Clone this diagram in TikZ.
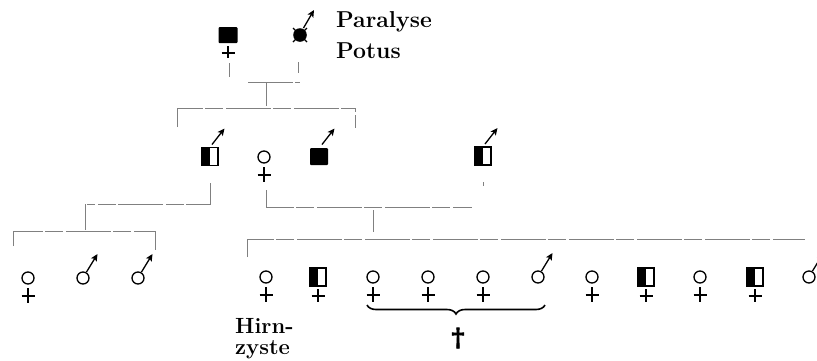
\documentclass[tikz,border=0pt]{standalone}
\usepackage{fontspec}
\newfontfamily\dagfont{DejaVu Serif}[FakeBold=2.5]
\usetikzlibrary{arrows.meta,decorations.pathreplacing}
\newcommand{\lblfont}{\fontsize{23pt}{24pt}\selectfont\bfseries}
\newcommand{\notefont}{\fontsize{22pt}{23pt}\selectfont\bfseries}
\newcommand{\crossfont}{\fontsize{25pt}{26pt}\selectfont\dagfont\bfseries}
\begin{document}
\begin{tikzpicture}[x=1pt,y=-1pt,
  sym/.style={line width=1.3pt},
  kin/.style={draw=black!50, line width=0.75pt, dash pattern=on 45pt off 2pt on 18pt off 3pt},
  marrow/.style={line width=1.3pt, -{Stealth[length=7pt,width=6.5pt,inset=1.5pt]}},
  lbl/.style={inner sep=0pt},
  ring/.style={circle, draw, line width=1.3pt, minimum size=12pt, inner sep=0pt},
  % female, unaffected
  femc/.pic={\node[ring] (-s) at (0,0) {};
    \draw[sym] (0,10)--(0,25) (-6.5,18)--(6.5,18);},
  % male, unaffected
  malc/.pic={\node[ring] (-s) at (0,0) {};
    \draw[marrow] (3.5,-6)--(14.5,-24);},
  % male, half affected
  halfm/.pic={\coordinate (-s) at (0,0);
    \fill (-8,-9) rectangle (0,9);
    \draw[sym] (-8,-9) rectangle (8,9);
    \draw[marrow] (2,-12)--(14.5,-28);},
  % female, half affected
  halff/.pic={\coordinate (-s) at (0,0);
    \fill (-8,-9) rectangle (0,9);
    \draw[sym] (-8,-9) rectangle (8,9);
    \draw[sym] (0,12)--(0,25) (-6.5,19)--(6.5,19);},
  % male, affected
  blkm/.pic={\coordinate (-s) at (0,0);
    \fill[rounded corners=1pt] (-9,-8.5) rectangle (9,8.5);
    \draw[marrow] (3,-12)--(15.5,-28);},
  % female, affected
  blkf/.pic={\coordinate (-s) at (0,0);
    \fill[rounded corners=1pt] (-9.5,-8) rectangle (9.5,8);
    \draw[sym] (0,11)--(0,23) (-6.5,18)--(6.5,18);},
  % male, affected, crossed circle
  xcirc/.pic={\coordinate (-s) at (0,0);
    \fill (0,0) circle (6.8);
    \draw[line width=1.3pt] (-7,-7)--(7,7) (-7,7)--(7,-7);
    \draw[marrow] (3.5,-7)--(14,-25);}
]
\useasboundingbox (0,0) rectangle (817,360);

% first generation
\pic (g1a) at (228,35) {blkf};
\pic (g1b) at (300,35) {xcirc};
\node[lbl, anchor=base west] (t1) at (336,27) {\lblfont Paralyse};
\node[lbl, anchor=base west] (t2) at (336,58) {\lblfont Potus};

% second generation
\pic (g2a) at (210,156.5) {halfm};
\pic (g2b) at (264,157) {femc};
\pic (g2c) at (319,156.5) {blkm};
\pic (g2d) at (483,156) {halfm};

% third generation, left sibship
\pic (l1) at (28,278) {femc};
\pic (l2) at (83,278) {malc};
\pic (l3) at (138,278) {malc};

% third generation, right sibship
\pic (r1) at (266,277) {femc};
\pic (r2) at (318,277) {halff};
\pic (r3) at (373,277) {femc};
\pic (r4) at (428,277) {femc};
\pic (r5) at (483,277) {femc};
\pic (r6) at (538,277) {malc};
\pic (r7) at (592,277) {femc};
\pic (r8) at (646,277) {halff};
\pic (r9) at (700,277) {femc};
\pic (r10) at (755,277) {halff};
\pic (r11) at (809,277) {malc};

% junction points of the pedigree lines
\coordinate (p1) at (229,63);  \coordinate (p1b) at (229,77);
\coordinate (p2) at (298,62);  \coordinate (p2b) at (298,73);
\coordinate (m1a) at (248,82); \coordinate (m1b) at (300,82);
\coordinate (d1) at (266,83);  \coordinate (d1b) at (266,106);
\coordinate (s1a) at (177,108); \coordinate (s1b) at (355,108);
\coordinate (s1c) at (177,127); \coordinate (s1d) at (355,128);

\coordinate (q1) at (210,183); \coordinate (q1b) at (210,204);
\coordinate (m2a) at (87,204);
\coordinate (d2) at (85,204);  \coordinate (d2b) at (85,230);
\coordinate (s2a) at (13,231); \coordinate (s2b) at (155,231);
\coordinate (s2c) at (13,246); \coordinate (s2d) at (155,250);

\coordinate (q2) at (266,190); \coordinate (q2b) at (266,207);
\coordinate (m3b) at (472,207);
\coordinate (q3) at (483,182); \coordinate (q3b) at (483,186);
\coordinate (d3) at (373,210); \coordinate (d3b) at (373,232);
\coordinate (s3a) at (247,239); \coordinate (s3b) at (805,239);
\coordinate (s3c) at (247,257);

% first marriage and its children
\draw[kin] (p1)--(p1b) (p2)--(p2b) (m1a)--(m1b) (d1)--(d1b);
\draw[kin] (s1c)--(s1a)--(s1b)--(s1d);

% left marriage and its children
\draw[kin] (q1)--(q1b)--(m2a) (d2)--(d2b);
\draw[kin] (s2c)--(s2a)--(s2b)--(s2d);

% right marriage and its children
\draw[kin] (q2)--(q2b)--(m3b) (q3)--(q3b) (d3)--(d3b);
\draw[kin] (s3c)--(s3a)--(s3b);

% annotations of the third generation
\node[lbl, anchor=base west] (t3) at (235,333) {\notefont Hirn-};
\node[lbl, anchor=base west] (t4) at (235,354) {\notefont zyste};
\coordinate (b1) at (367,305); \coordinate (b2) at (545,305);
\draw[line width=1.6pt, decorate, decoration={brace, mirror, amplitude=9pt}] (b1)--(b2);
\node[inner sep=0pt, anchor=base] (dg) at (458,346) {\crossfont\textdagger};
\end{tikzpicture}
\end{document}
